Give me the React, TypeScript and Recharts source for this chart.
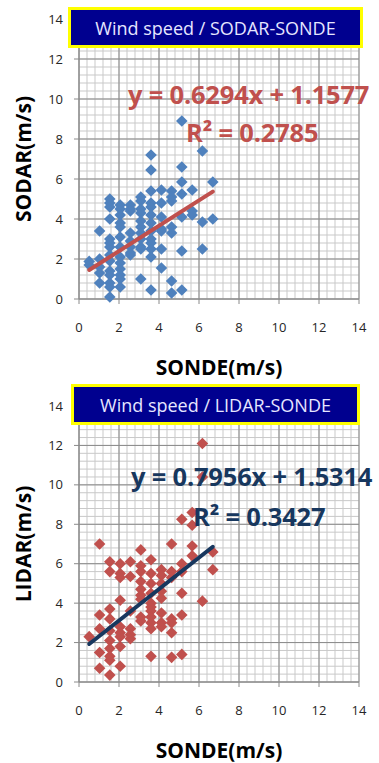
import React from "react";
import { CartesianGrid, Label, Scatter, ScatterChart, XAxis, YAxis } from "recharts";

// sonde wind speed comes in knot steps, so the x values fall in bins
const sondeBins = [0.51, 1.03, 1.54, 2.06, 2.57, 3.09, 3.6, 4.12, 4.63, 5.14, 5.66, 6.17, 6.69];

const sodarByBin = [
  [1.88, 1.7],
  [3.4, 2.0, 1.6, 1.3, 0.8],
  [5.0, 4.8, 4.6, 4.0, 3.0, 2.8, 2.6, 2.2, 1.9, 1.4, 1.2, 0.8, 0.6, 0.1],
  [4.7, 4.5, 4.2, 3.8, 3.6, 3.1, 2.6, 2.1, 1.8, 1.5, 1.2, 1.0, 0.6],
  [4.7, 4.5, 4.4, 3.3, 2.9, 2.6, 2.3, 2.2],
  [5.1, 4.9, 4.5, 4.3, 3.9, 3.6, 3.3, 3.0, 2.6, 2.5, 1.0],
  [7.2, 6.45, 5.4, 4.8, 4.6, 4.2, 3.8, 3.4, 3.0, 2.8, 2.5, 2.1, 0.45],
  [5.45, 4.8, 4.1, 3.5, 3.4, 2.5, 1.55],
  [5.4, 5.1, 4.9, 3.6, 3.3, 0.9, 0.3],
  [8.9, 6.6, 5.85, 5.25, 4.1, 2.4, 0.45],
  [5.45, 4.4, 4.2],
  [7.4, 3.85, 2.5],
  [5.85, 4.0],
];

const lidarByBin = [
  [2.3],
  [7.0, 3.4, 2.7, 1.5, 0.7],
  [6.1, 5.6, 3.7, 3.2, 2.6, 2.1, 1.7, 1.3, 1.1, 0.35],
  [6.0, 5.5, 5.3, 4.15, 2.8, 2.5, 2.3, 1.8, 0.8],
  [6.1, 5.35, 3.6, 2.7, 2.4, 2.2],
  [6.7, 5.9, 5.6, 5.1, 4.7, 4.4, 4.2, 3.3, 3.1],
  [6.2, 5.5, 5.0, 4.5, 4.0, 3.8, 3.6, 3.3, 3.0, 2.7, 1.3],
  [5.7, 5.4, 5.0, 4.6, 4.25, 3.5, 3.0, 2.8],
  [7.0, 5.6, 5.3, 3.2, 3.0, 2.5, 1.25],
  [8.25, 6.0, 5.6, 4.5, 3.4, 1.4],
  [8.6, 7.95, 6.9, 6.4],
  [12.1, 10.4, 4.1],
  [6.6, 5.7],
];

// trendline end points as drawn
const sodarTrend = [
  { x: 0.51, y: 1.45 },
  { x: 6.69, y: 5.37 },
];
const lidarTrend = [
  { x: 0.51, y: 1.93 },
  { x: 6.69, y: 6.86 },
];

const axisTicks = [0, 2, 4, 6, 8, 10, 12, 14];
const minorTicks = Array.from({ length: 36 }, (_, i) => Math.round(i * 4) / 10);

const FONT = "'Open Sans', 'Liberation Sans', sans-serif";

function toPoints(byBin: number[][]) {
  return byBin.flatMap((ys, i) => ys.map((y) => ({ x: sondeBins[i], y })));
}

function Diamond(props: any) {
  const { cx, cy, fill } = props;
  const r = 5.8;
  return (
    <polygon
      points={`${cx},${cy - r} ${cx + r},${cy} ${cx},${cy + r} ${cx - r},${cy}`}
      fill={fill}
    />
  );
}

type PanelProps = {
  top: number;
  height: number;
  marginTop: number;
  title: string;
  titleBox: { left: number; top: number; width: number };
  yTitle: string;
  points: { x: number; y: number }[];
  pointColor: string;
  trend: { x: number; y: number }[];
  trendColor: string;
  eq: string;
  r2: string;
  eqColor: string;
  eqPos: { left: number; top: number };
  r2Pos: { left: number; top: number };
};

function Panel(p: PanelProps) {
  const eqStyle: React.CSSProperties = {
    position: "absolute",
    color: p.eqColor,
    fontFamily: FONT,
    fontWeight: 700,
    fontSize: 25.5,
    letterSpacing: -0.2,
    lineHeight: 1,
    whiteSpace: "nowrap",
  };
  return (
    <div style={{ position: "absolute", left: 0, top: p.top, width: 379, height: p.height }}>
      <ScatterChart
        width={379}
        height={p.height}
        margin={{ top: p.marginTop, right: 20, bottom: 0, left: 0 }}
        style={{ fontFamily: FONT }}
      >
        <CartesianGrid
          horizontalValues={minorTicks}
          verticalValues={minorTicks}
          stroke="#c9c9c9"
          strokeWidth={1}
        />
        <CartesianGrid stroke="#8a8a8a" strokeWidth={1} />
        <XAxis
          type="number"
          dataKey="x"
          domain={[0, 14]}
          ticks={axisTicks}
          interval={0}
          height={81}
          tickSize={5}
          tickMargin={19}
          stroke="#8a8a8a"
          tick={{ fill: "#262626", fontSize: 13, fontFamily: FONT }}
        >
          <Label
            value="SONDE(m/s)"
            position="insideBottom"
            offset={5}
            fill="#000"
            fontSize={21}
            fontWeight={700}
            fontFamily={FONT}
          />
        </XAxis>
        <YAxis
          type="number"
          dataKey="y"
          domain={[0, 14]}
          ticks={axisTicks}
          interval={0}
          width={79}
          tickSize={5}
          tickMargin={11}
          stroke="#8a8a8a"
          tick={{ fill: "#262626", fontSize: 13, fontFamily: FONT }}
        >
          <Label
            value={p.yTitle}
            position="center"
            angle={-90}
            dx={-16}
            fill="#000"
            fontSize={21}
            fontWeight={700}
            fontFamily={FONT}
          />
        </YAxis>
        <Scatter data={p.points} fill={p.pointColor} shape={Diamond} isAnimationActive={false} />
        <Scatter
          data={p.trend}
          fill="none"
          line={{ stroke: p.trendColor, strokeWidth: 4, strokeLinecap: "round" }}
          shape={() => <g />}
          isAnimationActive={false}
        />
      </ScatterChart>

      <div
        style={{
          position: "absolute",
          left: p.titleBox.left,
          top: p.titleBox.top,
          width: p.titleBox.width,
          height: 41,
          boxSizing: "border-box",
          border: "3px solid #ffff00",
          background: "#00008f",
          color: "#e6e6ff",
          fontFamily: FONT,
          fontSize: 18,
          display: "flex",
          alignItems: "center",
          justifyContent: "center",
          whiteSpace: "nowrap",
        }}
      >
        {p.title}
      </div>

      <div style={{ ...eqStyle, left: p.eqPos.left, top: p.eqPos.top }}>{p.eq}</div>
      <div style={{ ...eqStyle, left: p.r2Pos.left, top: p.r2Pos.top }}>{p.r2}</div>
    </div>
  );
}

export default function App() {
  return (
    <div style={{ position: "absolute", left: 0, top: 0, width: 379, height: 763, background: "#fff" }}>
      <Panel
        top={0}
        height={380}
        marginTop={19}
        title="Wind speed / SODAR-SONDE"
        titleBox={{ left: 68, top: 7, width: 295 }}
        yTitle="SODAR(m/s)"
        points={toPoints(sodarByBin)}
        pointColor="#4f81bd"
        trend={sodarTrend}
        trendColor="#c0504d"
        eq="y = 0.6294x + 1.1577"
        r2="R² = 0.2785"
        eqColor="#c0504d"
        eqPos={{ left: 128, top: 82 }}
        r2Pos={{ left: 186, top: 120 }}
      />
      <Panel
        top={380}
        height={383}
        marginTop={26}
        title="Wind speed / LIDAR-SONDE"
        titleBox={{ left: 71, top: 4, width: 289 }}
        yTitle="LIDAR(m/s)"
        points={toPoints(lidarByBin)}
        pointColor="#c0504d"
        trend={lidarTrend}
        trendColor="#17375e"
        eq="y = 0.7956x + 1.5314"
        r2="R² = 0.3427"
        eqColor="#17375e"
        eqPos={{ left: 131, top: 84 }}
        r2Pos={{ left: 193, top: 124 }}
      />
    </div>
  );
}
